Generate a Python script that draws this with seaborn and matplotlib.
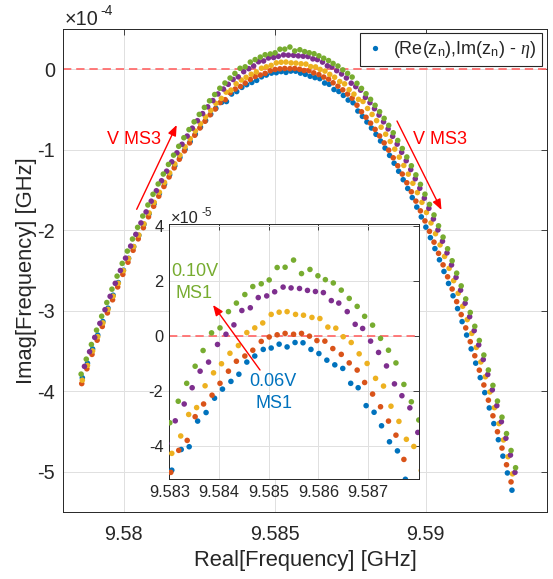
import matplotlib
matplotlib.use("Agg")
import numpy as np
import pandas as pd
import seaborn as sns
import matplotlib.pyplot as plt
from matplotlib.lines import Line2D

# ---------------- data (Re in GHz, Im in units of 1e-5 GHz) ----------------
ms1_levels = ["0.06V", "0.07V", "0.08V", "0.09V", "0.10V"]
colors = ["#0072BD", "#D95319", "#EDB120", "#7E2F8E", "#77AC30"]

re_006 = [9.57863, 9.57880, 9.57897, 9.57914, 9.57931, 9.57948, 9.57965, 9.57982, 9.57999, 9.58016, 9.58033, 9.58050, 9.58067,
          9.58084, 9.58101, 9.58118, 9.58135, 9.58152, 9.58169, 9.58186, 9.58203, 9.58220, 9.58237, 9.58254, 9.58271, 9.58288,
          9.58305, 9.58324, 9.58340, 9.58357, 9.58374, 9.58391, 9.58407, 9.58424, 9.58440, 9.58456, 9.58472, 9.58489, 9.58505,
          9.58521, 9.58537, 9.58553, 9.58569, 9.58585, 9.58601, 9.58617, 9.58633, 9.58649, 9.58665, 9.58680, 9.58696, 9.58712,
          9.58727, 9.58743, 9.58759,
          9.58775, 9.58790, 9.58805, 9.58820, 9.58835, 9.58850, 9.58865, 9.58880, 9.58895, 9.58910, 9.58925, 9.58940, 9.58955,
          9.58970, 9.58985, 9.59000, 9.59015, 9.59030, 9.59045, 9.59060, 9.59075, 9.59090, 9.59105, 9.59120, 9.59135, 9.59150,
          9.59165, 9.59180, 9.59195, 9.59210, 9.59225, 9.59240, 9.59255, 9.59270, 9.59285]
im_006 = [-38.33, -36.52, -34.75, -33.02, -31.34, -29.68, -28.07, -26.50, -24.97, -23.49, -22.04, -20.63, -19.27,
          -17.95, -16.67, -15.44, -14.26, -13.11, -12.00, -10.95, -9.94, -8.98, -8.06, -7.19, -6.37, -5.59,
          -4.86, -4.11, -4.01, -3.08, -2.77, -2.25, -1.92, -1.64, -1.38, -0.94, -0.72, -0.48, -0.43,
          -0.29, -0.39, -0.23, -0.24, -0.48, -0.63, -0.87, -1.04, -1.17, -1.71, -1.87, -2.52, -2.76,
          -3.25, -3.83, -4.16,
          -5.19, -5.85, -6.55, -7.30, -8.08, -8.91, -9.79, -10.70, -11.67, -12.67, -13.72, -14.81, -15.94,
          -17.12, -18.34, -19.61, -20.92, -22.28, -23.67, -25.12, -26.61, -28.14, -29.73, -31.35, -33.02, -34.74,
          -36.51, -38.31, -40.17, -42.07, -44.02, -46.02, -48.06, -50.15, -52.29]

re_007 = [9.57861, 9.57878, 9.57895, 9.57912, 9.57929, 9.57946, 9.57963, 9.57980, 9.57997, 9.58014, 9.58031, 9.58048, 9.58065,
          9.58082, 9.58099, 9.58116, 9.58133, 9.58150, 9.58167, 9.58184, 9.58201, 9.58218, 9.58235, 9.58252, 9.58269, 9.58286,
          9.58303, 9.58319, 9.58336, 9.58352, 9.58369, 9.58386, 9.58402, 9.58419, 9.58435, 9.58452, 9.58468, 9.58485, 9.58501,
          9.58517, 9.58533, 9.58550, 9.58566, 9.58582, 9.58597, 9.58613, 9.58629, 9.58646, 9.58662, 9.58678, 9.58693, 9.58709,
          9.58725, 9.58741, 9.58756, 9.58772,
          9.58787, 9.58802, 9.58817, 9.58832, 9.58847, 9.58862, 9.58877, 9.58892, 9.58907, 9.58922, 9.58937, 9.58952, 9.58967,
          9.58982, 9.58997, 9.59012, 9.59027, 9.59042, 9.59057, 9.59072, 9.59087, 9.59102, 9.59117, 9.59132, 9.59147, 9.59162,
          9.59177, 9.59192, 9.59207, 9.59222, 9.59237, 9.59252, 9.59267, 9.59282]
im_007 = [-39.05, -37.21, -35.42, -33.66, -31.95, -30.27, -28.64, -27.04, -25.48, -23.97, -22.49, -21.07, -19.68,
          -18.33, -17.02, -15.77, -14.56, -13.38, -12.25, -11.18, -10.14, -9.15, -8.20, -7.30, -6.46, -5.66,
          -4.94, -4.14, -3.78, -2.92, -2.46, -2.14, -1.71, -1.27, -0.91, -0.72, -0.51, -0.19, -0.03,
          0.05, 0.10, 0.07, 0.10, 0.00, -0.16, -0.18, -0.45, -0.66, -0.97, -1.23, -1.68, -2.10,
          -2.56, -3.08, -3.59, -4.47,
          -5.28, -5.97, -6.70, -7.47, -8.29, -9.15, -10.05, -11.00, -11.99, -13.02, -14.10, -15.22, -16.38,
          -17.59, -18.84, -20.14, -21.48, -22.87, -24.30, -25.78, -27.30, -28.87, -30.48, -32.13, -33.84, -35.59,
          -37.38, -39.22, -41.11, -43.05, -45.03, -47.06, -49.13, -51.26]

re_008 = [9.57863, 9.57880, 9.57897, 9.57914, 9.57931, 9.57948, 9.57965, 9.57982, 9.57999, 9.58016, 9.58033, 9.58050, 9.58067,
          9.58084, 9.58101, 9.58118, 9.58135, 9.58152, 9.58169, 9.58186, 9.58203, 9.58220, 9.58237, 9.58254, 9.58271, 9.58288,
          9.58305, 9.58323, 9.58339, 9.58355, 9.58372, 9.58389, 9.58405, 9.58422, 9.58439, 9.58456, 9.58472, 9.58488, 9.58505,
          9.58521, 9.58537, 9.58554, 9.58570, 9.58587, 9.58603, 9.58619, 9.58635, 9.58650, 9.58666, 9.58682, 9.58698, 9.58715,
          9.58731, 9.58746, 9.58762, 9.58777, 9.58792,
          9.58807, 9.58822, 9.58837, 9.58852, 9.58867, 9.58882, 9.58897, 9.58912, 9.58927, 9.58942, 9.58957, 9.58972, 9.58987,
          9.59002, 9.59017, 9.59032, 9.59047, 9.59062, 9.59077, 9.59092, 9.59107, 9.59122, 9.59137, 9.59152, 9.59167, 9.59182,
          9.59197, 9.59212, 9.59227, 9.59242, 9.59257, 9.59272, 9.59287]
im_008 = [-38.63, -36.79, -34.99, -33.22, -31.51, -29.83, -28.19, -26.59, -25.02, -23.51, -22.03, -20.60, -19.20,
          -17.85, -16.54, -15.28, -14.06, -12.88, -11.75, -10.67, -9.63, -8.63, -7.68, -6.78, -5.93, -5.12,
          -4.25, -3.62, -2.84, -2.59, -1.80, -1.33, -1.00, -0.62, -0.34, 0.13, 0.30, 0.48, 0.79,
          0.87, 0.89, 0.79, 0.76, 0.68, 0.64, 0.33, 0.29, -0.02, -0.23, -0.64, -0.99, -1.53,
          -1.81, -2.54, -3.09, -3.74, -4.00,
          -4.87, -5.61, -6.38, -7.20, -8.07, -8.97, -9.92, -10.92, -11.95, -13.03, -14.16, -15.32, -16.53,
          -17.79, -19.09, -20.43, -21.82, -23.25, -24.73, -26.26, -27.83, -29.44, -31.10, -32.81, -34.56, -36.36,
          -38.20, -40.09, -42.04, -44.02, -46.05, -48.13, -50.26]

re_009 = [9.57870, 9.57887, 9.57904, 9.57921, 9.57938, 9.57955, 9.57972, 9.57989, 9.58006, 9.58023, 9.58040, 9.58057, 9.58074,
          9.58091, 9.58108, 9.58125, 9.58142, 9.58159, 9.58176, 9.58193, 9.58210, 9.58227, 9.58244, 9.58261, 9.58278, 9.58295,
          9.58312, 9.58330, 9.58346, 9.58362, 9.58379, 9.58397, 9.58414, 9.58430, 9.58446, 9.58463, 9.58479, 9.58496, 9.58512,
          9.58529, 9.58545, 9.58562, 9.58578, 9.58594, 9.58610, 9.58626, 9.58641, 9.58658, 9.58674, 9.58689, 9.58705, 9.58721,
          9.58737, 9.58753, 9.58768, 9.58784, 9.58800,
          9.58815, 9.58830, 9.58845, 9.58860, 9.58875, 9.58890, 9.58905, 9.58920, 9.58935, 9.58950, 9.58965, 9.58980, 9.58995,
          9.59010, 9.59025, 9.59040, 9.59055, 9.59070, 9.59085, 9.59100, 9.59115, 9.59130, 9.59145, 9.59160, 9.59175, 9.59190,
          9.59205, 9.59220, 9.59235, 9.59250, 9.59265, 9.59280, 9.59295]
im_009 = [-36.91, -35.09, -33.31, -31.57, -29.87, -28.21, -26.59, -25.00, -23.46, -21.97, -20.51, -19.09, -17.72,
          -16.39, -15.09, -13.85, -12.66, -11.50, -10.38, -9.32, -8.30, -7.32, -6.39, -5.51, -4.67, -3.89,
          -3.07, -2.46, -1.87, -1.27, -0.94, -0.30, 0.07, 0.41, 0.93, 1.03, 1.40, 1.46, 1.61,
          1.78, 1.75, 1.73, 1.66, 1.62, 1.58, 1.29, 1.20, 0.89, 0.43, 0.28, -0.18, -0.59,
          -1.08, -1.73, -2.16, -2.60, -3.49,
          -4.15, -4.90, -5.69, -6.53, -7.41, -8.33, -9.30, -10.31, -11.36, -12.46, -13.60, -14.78, -16.01,
          -17.28, -18.60, -19.96, -21.36, -22.81, -24.31, -25.85, -27.44, -29.07, -30.74, -32.47, -34.24, -36.06,
          -37.92, -39.83, -41.79, -43.79, -45.84, -47.93, -50.08]

re_010 = [9.57859, 9.57876, 9.57893, 9.57910, 9.57927, 9.57944, 9.57961, 9.57978, 9.57995, 9.58012, 9.58029, 9.58046, 9.58063,
          9.58080, 9.58097, 9.58114, 9.58131, 9.58148, 9.58165, 9.58182, 9.58199, 9.58216, 9.58233, 9.58250, 9.58267, 9.58284,
          9.58301, 9.58318, 9.58335, 9.58352, 9.58368, 9.58385, 9.58402, 9.58419, 9.58435, 9.58452, 9.58468, 9.58485, 9.58501,
          9.58517, 9.58533, 9.58550, 9.58566, 9.58583, 9.58599, 9.58614, 9.58630, 9.58646, 9.58662, 9.58678, 9.58693, 9.58709,
          9.58725, 9.58741, 9.58756, 9.58772, 9.58787,
          9.58802, 9.58817, 9.58832, 9.58847, 9.58862, 9.58877, 9.58892, 9.58907, 9.58922, 9.58937, 9.58952, 9.58967, 9.58982,
          9.58997, 9.59012, 9.59027, 9.59042, 9.59057, 9.59072, 9.59087, 9.59102, 9.59117, 9.59132, 9.59147, 9.59162, 9.59177,
          9.59192, 9.59207, 9.59222, 9.59237, 9.59252, 9.59267, 9.59282, 9.59297]
im_010 = [-37.87, -36.01, -34.19, -32.41, -30.68, -28.98, -27.32, -25.70, -24.12, -22.59, -21.09, -19.64, -18.23,
          -16.86, -15.53, -14.25, -13.02, -11.82, -10.67, -9.57, -8.51, -7.50, -6.53, -5.61, -4.74, -3.92,
          -3.14, -2.36, -1.71, -1.09, -0.52, 0.12, 0.30, 0.89, 1.20, 1.51, 1.80, 1.90, 2.04,
          2.49, 2.50, 2.76, 2.27, 2.42, 2.19, 2.05, 1.93, 1.67, 1.37, 1.08, 0.72, 0.40,
          -0.08, -0.51, -0.97, -1.75, -2.38,
          -3.04, -3.74, -4.48, -5.27, -6.10, -6.97, -7.89, -8.85, -9.85, -10.90, -11.99, -13.12, -14.30,
          -15.52, -16.79, -18.10, -19.45, -20.85, -22.30, -23.79, -25.33, -26.91, -28.53, -30.21, -31.93, -33.69,
          -35.50, -37.36, -39.27, -41.22, -43.22, -45.26, -47.36, -49.50]

main_xticks = [9.58, 9.585, 9.59]
main_yticks = [0, -1, -2, -3, -4, -5]
inset_xticks = [9.583, 9.584, 9.585, 9.586, 9.587]
inset_yticks = [-4, -2, 0, 2, 4]

# ---------------- table ----------------
frames = []
for lvl, xs, ys in zip(ms1_levels, [re_006, re_007, re_008, re_009, re_010],
                       [im_006, im_007, im_008, im_009, im_010]):
    frames.append(pd.DataFrame({"re": xs, "im5": ys, "ms1": lvl}))
df = pd.concat(frames, ignore_index=True)
df["im4"] = df["im5"] / 10.0
palette = dict(zip(ms1_levels, colors))

# ---------------- style ----------------
sns.set_style("white")
plt.rcParams["font.family"] = ["Liberation Sans", "DejaVu Sans"]
plt.rcParams["axes.unicode_minus"] = False
plt.rcParams["mathtext.fontset"] = "custom"
plt.rcParams["mathtext.rm"] = "Liberation Sans"
plt.rcParams["mathtext.it"] = "Liberation Serif:italic"
plt.rcParams["lines.scale_dashes"] = False

W, H = 553, 579
TXT = "#262626"
GRID = "#e0e0e0"
ZERO = "#ff6f6f"


def fp(x, y):
    # pixel position -> figure fraction
    return x / W, 1 - y / H


def style_axes(ax, xt, yt, size, xpad, ypad):
    ax.set_xticks(xt)
    ax.set_yticks(yt)
    ax.set_xticklabels([f"{v:g}" for v in xt])
    ax.set_yticklabels([f"{v:g}" for v in yt])
    ax.tick_params(direction="in", top=True, right=True, length=4, width=0.6,
                   colors=TXT, labelsize=size)
    ax.tick_params(axis="x", pad=xpad)
    ax.tick_params(axis="y", pad=ypad)
    ax.grid(True, color=GRID, linewidth=0.7)
    ax.set_axisbelow(True)
    for sp in ax.spines.values():
        sp.set_color(TXT)
        sp.set_linewidth(0.7)


fig = plt.figure(figsize=(W / 100, H / 100), dpi=100)
ax = fig.add_axes([63.3 / W, 1 - 512 / H, 483.4 / W, 483 / H])

sns.scatterplot(data=df, x="re", y="im4", hue="ms1", palette=palette, s=16,
                linewidth=0, legend=False, ax=ax, zorder=3)
ax.axhline(0, color=ZERO, lw=1.3, ls=(0, (6, 3.5)), zorder=2)
ax.set_xlim(9.578, 9.594)
ax.set_ylim(-5.5, 0.5)
style_axes(ax, main_xticks, main_yticks, 14.3, 9, 6)
ax.set_xlabel("Real[Frequency] [GHz]", fontsize=15.8, color=TXT, labelpad=5)
ax.set_ylabel("Imag[Frequency] [GHz]", fontsize=15.8, color=TXT, labelpad=0)

handle = Line2D([], [], marker="o", ls="", color=colors[0], markersize=3.8,
                markeredgewidth=0)
leg = ax.legend([handle], [r"(Re(z$_\mathrm{n}$),Im(z$_\mathrm{n}$) - $\eta$)"],
                loc="upper right", bbox_to_anchor=(0.991, 0.9923), borderaxespad=0,
                frameon=True, fancybox=False, framealpha=1, edgecolor=TXT,
                fontsize=13, handlelength=1.0, handletextpad=0.5, borderpad=0.35)
leg.get_frame().set_linewidth(0.8)

# exponent labels
fig.text(*fp(65, 25), "\u00d710", fontsize=14.3, color=TXT, va="baseline")
fig.text(*fp(100.5, 15), "-4", fontsize=10, color=TXT, va="baseline")

# voltage sweep annotations on the main axes
fig.text(*fp(107.3, 139), "V MS3", fontsize=13, color="red", va="center")
fig.text(*fp(413.3, 139), "V MS3", fontsize=13, color="red", va="center")
arrow = dict(arrowstyle="-|>,head_length=0.45,head_width=0.18", color="red", lw=1,
             shrinkA=0, shrinkB=0, mutation_scale=14)
ax.annotate("", xy=fp(176.7, 125), xytext=fp(136.7, 209.3),
            xycoords="figure fraction", textcoords="figure fraction", arrowprops=arrow)
ax.annotate("", xy=fp(441.5, 210), xytext=fp(397, 121),
            xycoords="figure fraction", textcoords="figure fraction", arrowprops=arrow)

# ---------------- inset ----------------
axi = fig.add_axes([169.3 / W, 1 - 479 / H, 250 / W, 254.5 / H], zorder=5)
axi.set_facecolor("white")
sns.scatterplot(data=df, x="re", y="im5", hue="ms1", palette=palette, s=16,
                linewidth=0, legend=False, ax=axi, zorder=3)
axi.axhline(0, color=ZERO, lw=1.3, ls=(0, (6, 3.5)), zorder=2)
axi.set_xlim(9.583, 9.58803)
axi.set_ylim(-5.18, 4.05)
style_axes(axi, inset_xticks, inset_yticks, 11.8, 4.5, 4.2)
axi.set_xlabel("")
axi.set_ylabel("")

fig.text(*fp(170.7, 222.7), "\u00d710", fontsize=11.8, color=TXT, va="baseline", zorder=6)
fig.text(*fp(201.7, 216.5), "-5", fontsize=8.5, color=TXT, va="baseline", zorder=6)

fig.text(*fp(194.5, 272), "0.10V", fontsize=13, color=colors[4], ha="center", va="center", zorder=6)
fig.text(*fp(194.2, 294), "MS1", fontsize=13, color=colors[4], ha="center", va="center", zorder=6)
fig.text(*fp(273.3, 381), "0.06V", fontsize=13, color=colors[0], ha="center", va="center", zorder=6)
fig.text(*fp(274.2, 404), "MS1", fontsize=13, color=colors[0], ha="center", va="center", zorder=6)
axi.annotate("", xy=fp(213, 305), xytext=fp(260, 370),
             xycoords="figure fraction", textcoords="figure fraction", arrowprops=arrow)

fig.savefig("out.png", dpi=100)
